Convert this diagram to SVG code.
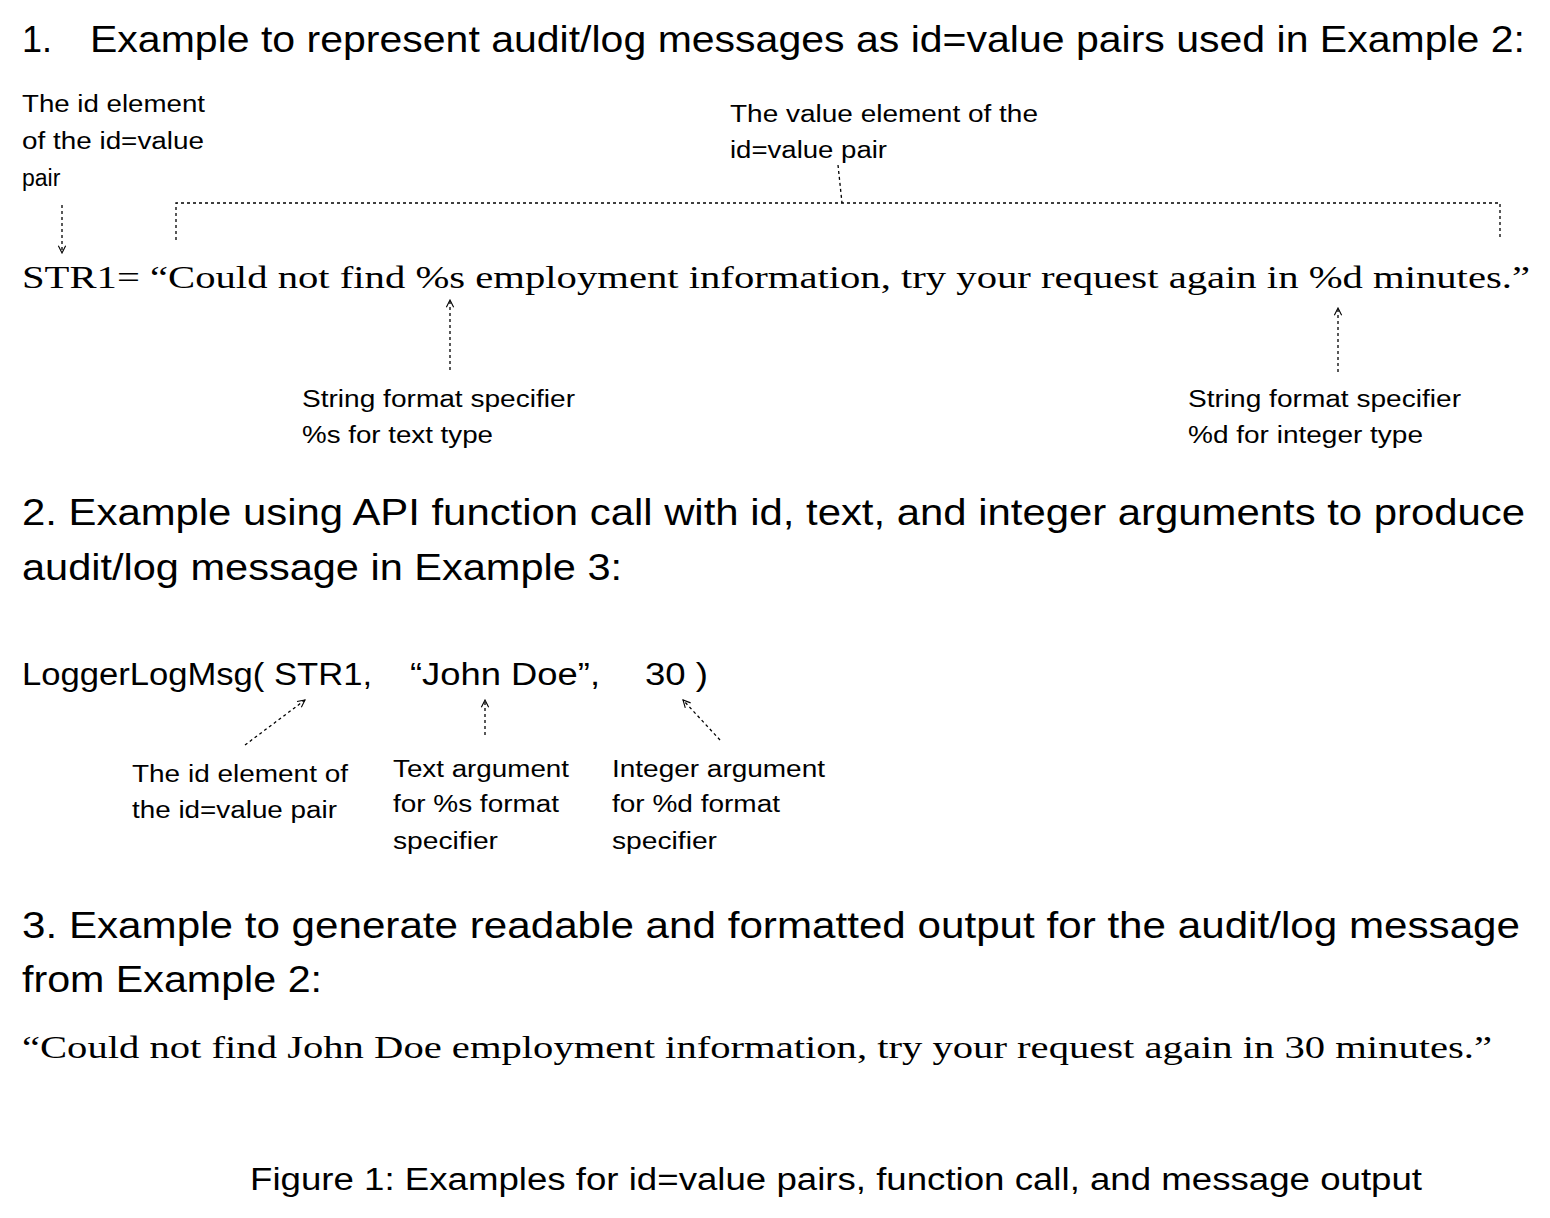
<svg xmlns="http://www.w3.org/2000/svg" width="1550" height="1218" viewBox="0 0 1550 1218">
<defs>
<marker id="ah" viewBox="0 0 10 10" refX="9" refY="5" markerWidth="7" markerHeight="7" orient="auto"><path d="M1,1 L9,5 L1,9" fill="none" stroke="#000" stroke-width="1.2"/></marker>
<style>
.h{font-family:"Liberation Sans",Arial,sans-serif;font-size:36px;fill:#000}
.l{font-family:"Liberation Sans",Arial,sans-serif;font-size:23px;fill:#000}
.c{font-family:"Liberation Sans",Arial,sans-serif;font-size:31px;fill:#000}
.s{font-family:"Liberation Serif","Times New Roman",serif;font-size:32px;fill:#000}
.d{fill:none;stroke:#000;stroke-width:1.3;stroke-dasharray:3 3}
.a{fill:none;stroke:#000;stroke-width:1.3;stroke-dasharray:3 3;marker-end:url(#ah)}
</style>
</defs>
<rect width="1550" height="1218" fill="#fff"/>
<g id="headings">
<text class="h" x="22" y="52">1.</text>
<text class="h" x="90" y="52" textLength="1435" lengthAdjust="spacingAndGlyphs">Example to represent audit/log messages as id=value pairs used in Example 2:</text>
<text class="h" x="22" y="525" textLength="1503" lengthAdjust="spacingAndGlyphs">2. Example using API function call with id, text, and integer arguments to produce</text>
<text class="h" x="22" y="580" textLength="600" lengthAdjust="spacingAndGlyphs">audit/log message in Example 3:</text>
<text class="h" x="22" y="938" textLength="1498" lengthAdjust="spacingAndGlyphs">3. Example to generate readable and formatted output for the audit/log message</text>
<text class="h" x="22" y="992" textLength="300" lengthAdjust="spacingAndGlyphs">from Example 2:</text>
<text class="c" x="250" y="1190" textLength="1172" lengthAdjust="spacingAndGlyphs">Figure 1: Examples for id=value pairs, function call, and message output</text>
</g>
<g id="str1">
<text class="s" x="22" y="288" textLength="1508" lengthAdjust="spacingAndGlyphs">STR1= “Could not find %s employment information, try your request again in %d minutes.”</text>
</g>
<g id="output">
<text class="s" x="22" y="1058" textLength="1470" lengthAdjust="spacingAndGlyphs">“Could not find John Doe employment information, try your request again in 30 minutes.”</text>
</g>
<g id="call">
<text class="c" x="22" y="685" textLength="350" lengthAdjust="spacingAndGlyphs">LoggerLogMsg( STR1,</text>
<text class="c" x="410" y="685" textLength="190" lengthAdjust="spacingAndGlyphs">“John Doe”,</text>
<text class="c" x="645" y="685" textLength="63" lengthAdjust="spacingAndGlyphs">30 )</text>
</g>
<g id="label-id">
<text class="l" x="22" y="112" textLength="183" lengthAdjust="spacingAndGlyphs">The id element</text>
<text class="l" x="22" y="149" textLength="182" lengthAdjust="spacingAndGlyphs">of the id=value</text>
<text class="l" x="22" y="186">pair</text>
</g>
<g id="label-value">
<text class="l" x="730" y="122" textLength="308" lengthAdjust="spacingAndGlyphs">The value element of the</text>
<text class="l" x="730" y="158" textLength="157" lengthAdjust="spacingAndGlyphs">id=value pair</text>
</g>
<g id="label-s">
<text class="l" x="302" y="407" textLength="273" lengthAdjust="spacingAndGlyphs">String format specifier</text>
<text class="l" x="302" y="443" textLength="191" lengthAdjust="spacingAndGlyphs">%s for text type</text>
</g>
<g id="label-d">
<text class="l" x="1188" y="407" textLength="273" lengthAdjust="spacingAndGlyphs">String format specifier</text>
<text class="l" x="1188" y="443" textLength="235" lengthAdjust="spacingAndGlyphs">%d for integer type</text>
</g>
<g id="label-arg-id">
<text class="l" x="132" y="782" textLength="216" lengthAdjust="spacingAndGlyphs">The id element of</text>
<text class="l" x="132" y="818" textLength="205" lengthAdjust="spacingAndGlyphs">the id=value pair</text>
</g>
<g id="label-arg-text">
<text class="l" x="393" y="777" textLength="176" lengthAdjust="spacingAndGlyphs">Text argument</text>
<text class="l" x="393" y="812" textLength="166" lengthAdjust="spacingAndGlyphs">for %s format</text>
<text class="l" x="393" y="849" textLength="105" lengthAdjust="spacingAndGlyphs">specifier</text>
</g>
<g id="label-arg-int">
<text class="l" x="612" y="777" textLength="213" lengthAdjust="spacingAndGlyphs">Integer argument</text>
<text class="l" x="612" y="812" textLength="168" lengthAdjust="spacingAndGlyphs">for %d format</text>
<text class="l" x="612" y="849" textLength="105" lengthAdjust="spacingAndGlyphs">specifier</text>
</g>
<g id="connectors">
<path class="d" d="M176,240 V203 H1500 V240"/>
<path class="d" d="M838,165 L842,203"/>
<path class="a" d="M62,205 V253"/>
<path class="a" d="M450,370 V300"/>
<path class="a" d="M1338,372 V308"/>
<path class="a" d="M245,745 L305,700"/>
<path class="a" d="M485,735 V700"/>
<path class="a" d="M720,740 L683,700"/>
</g>
</svg>
